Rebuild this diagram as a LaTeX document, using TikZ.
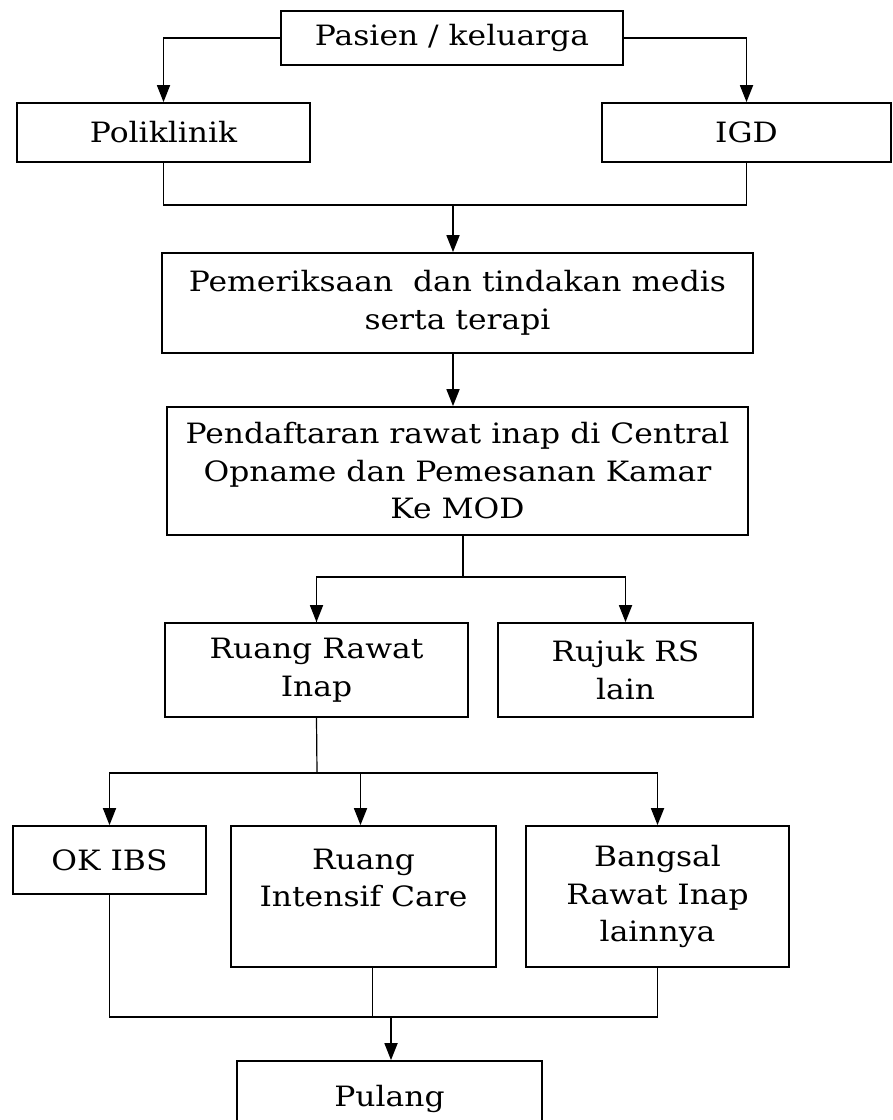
\documentclass[tikz,border=0pt]{standalone}
\usepackage{fontspec}
\setmainfont{DejaVu Serif}[FakeStretch=1.12]
\usetikzlibrary{arrows.meta}
\begin{document}
\begin{tikzpicture}[x=1pt,y=-1pt,
  box/.style={draw, line width=1.8pt, align=center, inner sep=0pt,
    font=\fontsize{28}{37.5}\selectfont},
  arr/.style={line width=1.8pt, -{Triangle[length=17pt,width=13pt]}},
  link/.style={line width=1.8pt},
  thinlink/.style={line width=1.2pt}]
\useasboundingbox (0,0) rectangle (893,1120);
\clip (0,0) rectangle (893,1120);

% boxes
\node[box, minimum width=342pt, minimum height=54pt] (pasien) at (452,38) {Pasien / keluarga};
\node[box, minimum width=293pt, minimum height=59pt] (poli) at (163.5,132.5) {Poliklinik};
\node[box, minimum width=289pt, minimum height=59pt] (igd) at (746.5,132.5) {IGD};
\node[box, minimum width=591pt, minimum height=100pt] (periksa) at (457.5,303) {Pemeriksaan~ dan tindakan medis\\serta terapi};
\node[box, minimum width=581pt, minimum height=128pt] (daftar) at (457.5,471) {Pendaftaran rawat inap di Central\\Opname dan Pemesanan Kamar\\Ke MOD};
\node[box, minimum width=303pt, minimum height=94pt] (rawat) at (316.5,670) {Ruang Rawat\\Inap};
\node[box, minimum width=255pt, minimum height=94pt] (rujuk) at (625.5,670) {Rujuk RS\\lain};
\node[box, minimum width=193pt, minimum height=68pt] (okibs) at (109.5,860) {OK IBS};
\node[box, minimum width=265pt, minimum height=141pt] (icu) at (363.5,896.5) {Ruang\\Intensif Care\\\mbox{}};
\node[box, minimum width=263pt, minimum height=141pt] (bangsal) at (657.5,896.5) {Bangsal\\Rawat Inap\\lainnya};
\node[box, minimum width=305pt, minimum height=76pt] (pulang) at (389.5,1099) {Pulang};

% junction points of the connectors
\coordinate (j1) at (453,205);
\coordinate (j2) at (463,577);
\coordinate (j3) at (317,773);
\coordinate (j4) at (391,1017);

% first level
\draw[arr] (pasien.west) -| (poli.north);
\draw[arr] (pasien.east) -| (igd.north);
\draw[link] (poli.south) |- (j1) -| (igd.south);
\draw[arr] (j1) -- (j1 |- periksa.north);
\draw[arr] (j1 |- periksa.south) -- (j1 |- daftar.north);

% registration branches
\draw[thinlink] (j2 |- daftar.south) -- (j2);
\draw[link] (j2) -| (rawat.north);
\draw[arr] (j2) -| (rawat.north);
\draw[arr] (j2) -| (rujuk.north);

% inpatient branches
\draw[thinlink] (rawat.south) -- (j3);
\draw[arr] (j3) -| (okibs.north);
\draw[arr] ([xshift=-3pt]icu.north |- j3) -- ([xshift=-3pt]icu.north);
\draw[arr] (j3) -| (bangsal.north);

% merge into discharge
\draw[thinlink] (okibs.south) |- (j4 -| bangsal.south) -- (bangsal.south);
\draw[thinlink] ([xshift=9pt]icu.south) -- ([xshift=9pt]icu.south |- j4);
\draw[arr] (j4) -- (pulang.north -| j4);
\end{tikzpicture}
\end{document}
